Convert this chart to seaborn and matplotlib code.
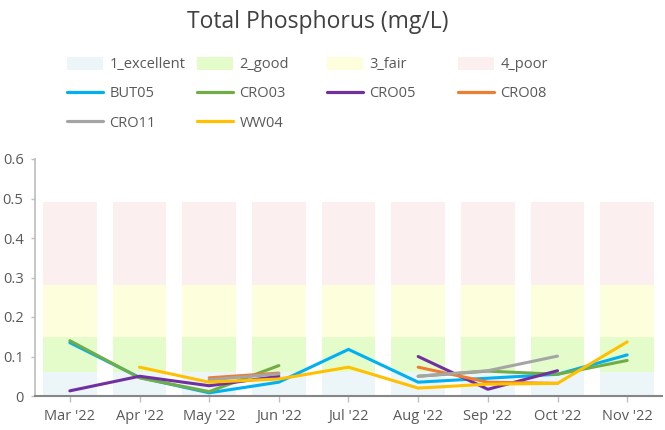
import numpy as np
import pandas as pd
import matplotlib
matplotlib.use("Agg")
import matplotlib.pyplot as plt
import seaborn as sns
from matplotlib.patches import Patch
from matplotlib.lines import Line2D

# months on the x axis
months = ["Mar '22", "Apr '22", "May '22", "Jun '22", "Jul '22",
          "Aug '22", "Sep '22", "Oct '22", "Nov '22"]

# condition bands (upper limit of each band, mg/L)
band_names = ["1_excellent", "2_good", "3_fair", "4_poor"]
band_tops = [0.06, 0.15, 0.28, 0.49]
band_colors = ["#ECF5F8", "#E3FCCA", "#FCFEDC", "#FCEFEF"]

# site readings (nan = no sample)
nan = np.nan
but05 = [0.135, 0.047, 0.008, 0.035, 0.118, 0.035, 0.045, 0.055, 0.104]
cro03 = [0.140, 0.046, 0.011, 0.077, nan, 0.050, 0.063, 0.055, 0.090]
cro05 = [0.013, 0.050, 0.026, 0.050, nan, 0.100, 0.017, 0.064, nan]
cro08 = [nan, nan, 0.046, 0.058, nan, 0.073, 0.035, 0.032, nan]
cro11 = [nan, nan, 0.041, 0.056, nan, 0.050, 0.064, 0.101, nan]
ww04 = [nan, 0.073, 0.035, 0.043, 0.073, 0.020, 0.030, 0.032, 0.137]

sites = ["BUT05", "CRO03", "CRO05", "CRO08", "CRO11", "WW04"]
site_values = [but05, cro03, cro05, cro08, cro11, ww04]
site_colors = ["#00B0F0", "#70AD47", "#7030A0", "#ED7D31", "#A5A5A5", "#FFC000"]

# long table, with a segment id so gaps break the line
rows = []
for site, vals in zip(sites, site_values):
    seg = 0
    for i, v in enumerate(vals):
        if np.isnan(v):
            seg += 1
            continue
        rows.append({"site": site, "x": i, "value": v, "seg": f"{site}_{seg}"})
df = pd.DataFrame(rows)

sns.set_theme(style="white")
plt.rcParams["font.family"] = ["Open Sans", "DejaVu Sans"]

fig = plt.figure(figsize=(6.65, 4.3), dpi=100)
ax = fig.add_axes([35 / 665, 1 - 396 / 430, 627 / 665, 237 / 430])

# stacked background bands
x = np.arange(len(months))
bottom = np.zeros(len(months))
for name, top, col in zip(band_names, band_tops, band_colors):
    h = np.full(len(months), top) - bottom
    ax.bar(x, h, bottom=bottom, width=0.77, color=col, linewidth=0, zorder=1)
    bottom = bottom + h

sns.lineplot(data=df, x="x", y="value", hue="site", units="seg",
             estimator=None, palette=dict(zip(sites, site_colors)),
             hue_order=sites, linewidth=2.2, legend=False, ax=ax, zorder=3)

ax.set_xlim(-0.5, 8.5)
ax.set_ylim(0, 0.6)
ax.set_xticks(x)
ax.set_xticklabels(months)
ax.set_yticks([0, 0.1, 0.2, 0.3, 0.4, 0.5, 0.6])
ax.set_yticklabels(["0", "0.1", "0.2", "0.3", "0.4", "0.5", "0.6"])
ax.set_xlabel("")
ax.set_ylabel("")

for s in ["top", "right"]:
    ax.spines[s].set_visible(False)
ax.spines["left"].set_color("#BFBFBF")
ax.spines["bottom"].set_color("#868686")
ax.spines["bottom"].set_linewidth(1.5)
ax.tick_params(axis="both", colors="#BFBFBF", labelcolor="#595959",
               labelsize=10.5, width=1, direction="out", bottom=True, left=True)
ax.tick_params(axis="x", length=4.3, pad=5)
ax.tick_params(axis="y", length=3.2, pad=5)

fig.text(318 / 665, 1 - 28 / 430, "Total Phosphorus (mg/L)", ha="center",
         va="baseline", fontsize=16.5, color="#404040")

# legend: one column per slot, bands on top then sites
band_h = [Patch(facecolor=c, edgecolor="none") for c in band_colors]
line_h = [Line2D([0], [0], color=c, lw=2.3) for c in site_colors]
columns = [
    ([band_h[0], line_h[0], line_h[4]], [band_names[0], sites[0], sites[4]]),
    ([band_h[1], line_h[1], line_h[5]], [band_names[1], sites[1], sites[5]]),
    ([band_h[2], line_h[2]], [band_names[2], sites[2]]),
    ([band_h[3], line_h[3]], [band_names[3], sites[3]]),
]
col_x = [67, 197, 327, 458]
for (hs, ls), cx in zip(columns, col_x):
    leg = fig.legend(hs, ls, loc="upper left",
                     bbox_to_anchor=(cx / 665, 1 - 57 / 430), frameon=False,
                     fontsize=10.5, handlelength=2.5, handleheight=0.95,
                     handletextpad=0.42, labelspacing=0.95,
                     borderpad=0, borderaxespad=0)
    for t in leg.get_texts():
        t.set_color("#595959")

fig.savefig("out.png", dpi=100)
